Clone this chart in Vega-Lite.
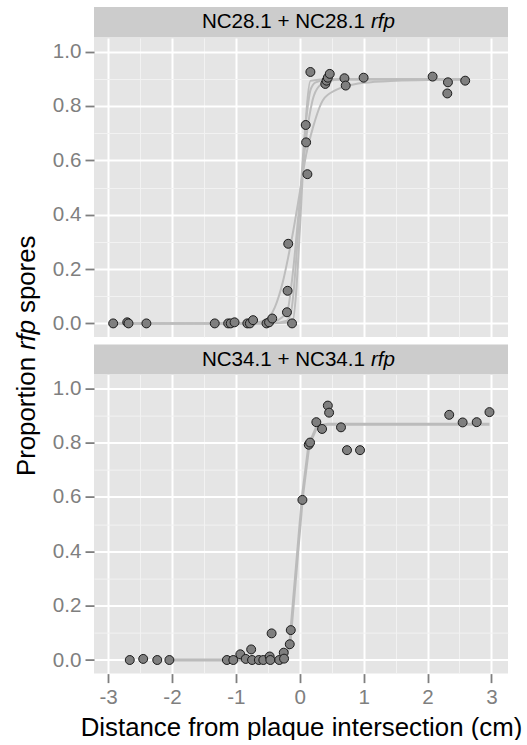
{
  "$schema": "https://vega.github.io/schema/vega-lite/v6.json",
  "padding": {"top": 7, "left": 0, "right": 0, "bottom": 0},
  "background": "white",
  "config": {
    "view": {"stroke": null},
    "font": "Liberation Sans"
  },
  "datasets": {
    "ytitle": [
      {"part": "Proportion"},
      {"part": "rfp"},
      {"part": "spores"}
    ],
    "strips": [
      {"panel": "NC28.1", "strain": "NC28.1 + NC28.1", "gene": "rfp"},
      {"panel": "NC34.1", "strain": "NC34.1 + NC34.1", "gene": "rfp"}
    ],
    "points": [
      {"panel": "NC28.1", "x": -2.92, "y": 0},
      {"panel": "NC28.1", "x": -2.70, "y": 0.004},
      {"panel": "NC28.1", "x": -2.68, "y": 0},
      {"panel": "NC28.1", "x": -2.40, "y": 0},
      {"panel": "NC28.1", "x": -1.33, "y": 0},
      {"panel": "NC28.1", "x": -1.12, "y": 0},
      {"panel": "NC28.1", "x": -1.08, "y": 0},
      {"panel": "NC28.1", "x": -1.02, "y": 0.004},
      {"panel": "NC28.1", "x": -0.82, "y": 0},
      {"panel": "NC28.1", "x": -0.78, "y": 0},
      {"panel": "NC28.1", "x": -0.73, "y": 0.012},
      {"panel": "NC28.1", "x": -0.52, "y": 0},
      {"panel": "NC28.1", "x": -0.48, "y": 0.004},
      {"panel": "NC28.1", "x": -0.43, "y": 0.018},
      {"panel": "NC28.1", "x": -0.18, "y": 0.293},
      {"panel": "NC28.1", "x": -0.19, "y": 0.12},
      {"panel": "NC28.1", "x": -0.20, "y": 0.041},
      {"panel": "NC28.1", "x": -0.12, "y": 0},
      {"panel": "NC28.1", "x": 0.094, "y": 0.73},
      {"panel": "NC28.1", "x": 0.10, "y": 0.666},
      {"panel": "NC28.1", "x": 0.12, "y": 0.549},
      {"panel": "NC28.1", "x": 0.167, "y": 0.925},
      {"panel": "NC28.1", "x": 0.40, "y": 0.881},
      {"panel": "NC28.1", "x": 0.42, "y": 0.893},
      {"panel": "NC28.1", "x": 0.44, "y": 0.904},
      {"panel": "NC28.1", "x": 0.47, "y": 0.918},
      {"panel": "NC28.1", "x": 0.70, "y": 0.902},
      {"panel": "NC28.1", "x": 0.72, "y": 0.875},
      {"panel": "NC28.1", "x": 1.00, "y": 0.904},
      {"panel": "NC28.1", "x": 2.08, "y": 0.908},
      {"panel": "NC28.1", "x": 2.31, "y": 0.846},
      {"panel": "NC28.1", "x": 2.32, "y": 0.887},
      {"panel": "NC28.1", "x": 2.59, "y": 0.893},
      {"panel": "NC34.1", "x": -2.66, "y": 0},
      {"panel": "NC34.1", "x": -2.45, "y": 0.004},
      {"panel": "NC34.1", "x": -2.23, "y": 0},
      {"panel": "NC34.1", "x": -2.04, "y": 0},
      {"panel": "NC34.1", "x": -1.14, "y": 0},
      {"panel": "NC34.1", "x": -1.04, "y": 0},
      {"panel": "NC34.1", "x": -0.93, "y": 0.021},
      {"panel": "NC34.1", "x": -0.845, "y": 0.004},
      {"panel": "NC34.1", "x": -0.76, "y": 0.039},
      {"panel": "NC34.1", "x": -0.746, "y": 0},
      {"panel": "NC34.1", "x": -0.64, "y": 0},
      {"panel": "NC34.1", "x": -0.57, "y": 0},
      {"panel": "NC34.1", "x": -0.47, "y": 0.013},
      {"panel": "NC34.1", "x": -0.46, "y": 0},
      {"panel": "NC34.1", "x": -0.44, "y": 0.098},
      {"panel": "NC34.1", "x": -0.32, "y": 0},
      {"panel": "NC34.1", "x": -0.25, "y": 0.027},
      {"panel": "NC34.1", "x": -0.245, "y": 0.005},
      {"panel": "NC34.1", "x": -0.156, "y": 0.058},
      {"panel": "NC34.1", "x": -0.14, "y": 0.11},
      {"panel": "NC34.1", "x": 0.042, "y": 0.589},
      {"panel": "NC34.1", "x": 0.141, "y": 0.792},
      {"panel": "NC34.1", "x": 0.162, "y": 0.80},
      {"panel": "NC34.1", "x": 0.26, "y": 0.875},
      {"panel": "NC34.1", "x": 0.35, "y": 0.85},
      {"panel": "NC34.1", "x": 0.44, "y": 0.936},
      {"panel": "NC34.1", "x": 0.46, "y": 0.91},
      {"panel": "NC34.1", "x": 0.646, "y": 0.856},
      {"panel": "NC34.1", "x": 0.74, "y": 0.772},
      {"panel": "NC34.1", "x": 0.944, "y": 0.772},
      {"panel": "NC34.1", "x": 2.34, "y": 0.902},
      {"panel": "NC34.1", "x": 2.55, "y": 0.874},
      {"panel": "NC34.1", "x": 2.77, "y": 0.875},
      {"panel": "NC34.1", "x": 2.97, "y": 0.912}
    ],
    "curves": [
      {"panel": "NC28.1", "rep": "a", "x": -2.92, "y": 0},
      {"panel": "NC28.1", "rep": "a", "x": -0.52, "y": 0},
      {"panel": "NC28.1", "rep": "a", "x": -0.12, "y": 0.003},
      {"panel": "NC28.1", "rep": "a", "x": 0.17, "y": 0.893},
      {"panel": "NC28.1", "rep": "a", "x": 0.47, "y": 0.898},
      {"panel": "NC28.1", "rep": "a", "x": 2.59, "y": 0.898},
      {"panel": "NC28.1", "rep": "b", "x": -2.92, "y": 0},
      {"panel": "NC28.1", "rep": "b", "x": -0.78, "y": 0},
      {"panel": "NC28.1", "rep": "b", "x": -0.43, "y": 0.001},
      {"panel": "NC28.1", "rep": "b", "x": -0.2, "y": 0.01},
      {"panel": "NC28.1", "rep": "b", "x": -0.13, "y": 0.05},
      {"panel": "NC28.1", "rep": "b", "x": 0.1, "y": 0.75},
      {"panel": "NC28.1", "rep": "b", "x": 0.17, "y": 0.86},
      {"panel": "NC28.1", "rep": "b", "x": 0.25, "y": 0.887},
      {"panel": "NC28.1", "rep": "b", "x": 0.44, "y": 0.897},
      {"panel": "NC28.1", "rep": "b", "x": 2.59, "y": 0.898},
      {"panel": "NC28.1", "rep": "c", "x": -2.92, "y": 0},
      {"panel": "NC28.1", "rep": "c", "x": -0.73, "y": 0},
      {"panel": "NC28.1", "rep": "c", "x": -0.48, "y": 0.002},
      {"panel": "NC28.1", "rep": "c", "x": -0.2, "y": 0.04},
      {"panel": "NC28.1", "rep": "c", "x": -0.12, "y": 0.16},
      {"panel": "NC28.1", "rep": "c", "x": 0.0, "y": 0.45},
      {"panel": "NC28.1", "rep": "c", "x": 0.1, "y": 0.68},
      {"panel": "NC28.1", "rep": "c", "x": 0.2, "y": 0.82},
      {"panel": "NC28.1", "rep": "c", "x": 0.3, "y": 0.872},
      {"panel": "NC28.1", "rep": "c", "x": 0.47, "y": 0.893},
      {"panel": "NC28.1", "rep": "c", "x": 0.72, "y": 0.898},
      {"panel": "NC28.1", "rep": "c", "x": 2.59, "y": 0.898},
      {"panel": "NC28.1", "rep": "d", "x": -2.92, "y": 0},
      {"panel": "NC28.1", "rep": "d", "x": -0.82, "y": 0.001},
      {"panel": "NC28.1", "rep": "d", "x": -0.55, "y": 0.01},
      {"panel": "NC28.1", "rep": "d", "x": -0.39, "y": 0.059},
      {"panel": "NC28.1", "rep": "d", "x": -0.26, "y": 0.157},
      {"panel": "NC28.1", "rep": "d", "x": -0.18, "y": 0.244},
      {"panel": "NC28.1", "rep": "d", "x": -0.1, "y": 0.342},
      {"panel": "NC28.1", "rep": "d", "x": 0.0, "y": 0.48},
      {"panel": "NC28.1", "rep": "d", "x": 0.1, "y": 0.62},
      {"panel": "NC28.1", "rep": "d", "x": 0.21, "y": 0.723},
      {"panel": "NC28.1", "rep": "d", "x": 0.365, "y": 0.822},
      {"panel": "NC28.1", "rep": "d", "x": 0.57, "y": 0.859},
      {"panel": "NC28.1", "rep": "d", "x": 0.72, "y": 0.872},
      {"panel": "NC28.1", "rep": "d", "x": 1.0, "y": 0.885},
      {"panel": "NC28.1", "rep": "d", "x": 1.5, "y": 0.893},
      {"panel": "NC28.1", "rep": "d", "x": 2.08, "y": 0.896},
      {"panel": "NC28.1", "rep": "d", "x": 2.59, "y": 0.897},
      {"panel": "NC34.1", "rep": "a", "x": -2.04, "y": 0},
      {"panel": "NC34.1", "rep": "a", "x": -0.32, "y": 0},
      {"panel": "NC34.1", "rep": "a", "x": -0.25, "y": 0.004},
      {"panel": "NC34.1", "rep": "a", "x": -0.156, "y": 0.05},
      {"panel": "NC34.1", "rep": "a", "x": -0.14, "y": 0.10},
      {"panel": "NC34.1", "rep": "a", "x": 0.042, "y": 0.60},
      {"panel": "NC34.1", "rep": "a", "x": 0.141, "y": 0.785},
      {"panel": "NC34.1", "rep": "a", "x": 0.162, "y": 0.80},
      {"panel": "NC34.1", "rep": "a", "x": 0.26, "y": 0.855},
      {"panel": "NC34.1", "rep": "a", "x": 0.35, "y": 0.864},
      {"panel": "NC34.1", "rep": "a", "x": 0.44, "y": 0.867},
      {"panel": "NC34.1", "rep": "a", "x": 2.97, "y": 0.867}
    ]
  },
  "spacing": 4,
  "hconcat": [
    {
      "width": 48,
      "height": 656,
      "data": {"name": "ytitle"},
      "layer": [
        {
          "transform": [{"filter": "datum.part == 'rfp'"}],
          "mark": {"type": "text", "angle": 270, "fontSize": 25.8, "fontStyle": "italic", "align": "center", "baseline": "middle", "dy": 3, "color": "black"},
          "encoding": {"text": {"field": "part"}}
        },
        {
          "transform": [{"filter": "datum.part == 'Proportion'"}],
          "mark": {"type": "text", "angle": 270, "fontSize": 25.8, "align": "right", "baseline": "middle", "dx": -22, "dy": 3, "color": "black"},
          "encoding": {"text": {"field": "part"}}
        },
        {
          "transform": [{"filter": "datum.part == 'spores'"}],
          "mark": {"type": "text", "angle": 270, "fontSize": 25.8, "align": "left", "baseline": "middle", "dx": 22, "dy": 3, "color": "black"},
          "encoding": {"text": {"field": "part"}}
        }
      ]
    },
    {
      "spacing": 7.6,
      "vconcat": [
        {
          "spacing": 0,
          "vconcat": [
            {
              "width": 414,
              "height": 30.4,
              "view": {"fill": "#CCCCCC", "stroke": null},
              "data": {"name": "strips"},
              "transform": [{"filter": "datum.panel == 'NC28.1'"}],
              "layer": [
                {"mark": {"type": "text", "align": "right", "dx": 64, "fontSize": 20.6, "baseline": "middle", "color": "black"}, "encoding": {"text": {"field": "strain"}}},
                {"mark": {"type": "text", "align": "left", "dx": 70, "fontSize": 20.6, "fontStyle": "italic", "baseline": "middle", "color": "black"}, "encoding": {"text": {"field": "gene"}}}
              ]
            },
            {
              "width": 414,
              "height": 299,
              "view": {"fill": "#E5E5E5", "stroke": null},
              "layer": [
                {
                  "data": {"name": "curves"},
                  "transform": [{"filter": "datum.panel == 'NC28.1'"}],
                  "mark": {"type": "line", "color": "#BDBDBD", "strokeWidth": 2, "interpolate": "monotone"},
                  "encoding": {
                    "x": {"field": "x", "type": "quantitative", "scale": {"domain": [-3.22, 3.26], "nice": false, "zero": false},
                      "axis": {"orient": "top", "values": [-2.5, -1.5, -0.5, 0.5, 1.5, 2.5], "grid": true, "gridColor": "#F2F2F2", "gridWidth": 1, "labels": false, "ticks": false, "domain": false, "title": null, "minExtent": 0, "maxExtent": 0}},
                    "y": {"field": "y", "type": "quantitative", "scale": {"domain": [-0.05, 1.05], "nice": false, "zero": false},
                      "axis": {"orient": "right", "values": [0.1, 0.3, 0.5, 0.7, 0.9], "grid": true, "gridColor": "#F2F2F2", "gridWidth": 1, "labels": false, "ticks": false, "domain": false, "title": null, "minExtent": 0, "maxExtent": 0}},
                    "detail": {"field": "rep"}
                  }
                },
                {
                  "data": {"name": "points"},
                  "transform": [{"filter": "datum.panel == 'NC28.1'"}],
                  "mark": {"type": "circle", "fill": "#7F7F7F", "stroke": "#1A1A1A", "strokeWidth": 1, "size": 80, "opacity": 1},
                  "encoding": {
                    "x": {"field": "x", "type": "quantitative",
                      "axis": {"orient": "bottom", "values": [-3, -2, -1, 0, 1, 2, 3], "grid": true, "gridColor": "#FFFFFF", "gridWidth": 2, "labels": false, "ticks": false, "domain": false, "title": null, "minExtent": 0, "maxExtent": 0}},
                    "y": {"field": "y", "type": "quantitative",
                      "axis": {"orient": "left", "values": [0, 0.2, 0.4, 0.6, 0.8, 1], "format": ".1f", "grid": true, "gridColor": "#FFFFFF", "gridWidth": 2, "labelColor": "#7F7F7F", "labelFontSize": 20.6, "labelPadding": 4, "ticks": true, "tickColor": "#7F7F7F", "tickSize": 9, "tickWidth": 1.8, "domain": false, "title": null, "minExtent": 36, "maxExtent": 36}}
                  }
                }
              ],
              "resolve": {"axis": {"x": "independent", "y": "independent"}}
            }
          ]
        },
        {
          "spacing": 0,
          "vconcat": [
            {
              "width": 414,
              "height": 30,
              "view": {"fill": "#CCCCCC", "stroke": null},
              "data": {"name": "strips"},
              "transform": [{"filter": "datum.panel == 'NC34.1'"}],
              "layer": [
                {"mark": {"type": "text", "align": "right", "dx": 64, "fontSize": 20.6, "baseline": "middle", "color": "black"}, "encoding": {"text": {"field": "strain"}}},
                {"mark": {"type": "text", "align": "left", "dx": 70, "fontSize": 20.6, "fontStyle": "italic", "baseline": "middle", "color": "black"}, "encoding": {"text": {"field": "gene"}}}
              ]
            },
            {
              "width": 414,
              "height": 299,
              "view": {"fill": "#E5E5E5", "stroke": null},
              "layer": [
                {
                  "data": {"name": "curves"},
                  "transform": [{"filter": "datum.panel == 'NC34.1'"}],
                  "mark": {"type": "line", "color": "#BBBBBB", "strokeWidth": 3},
                  "encoding": {
                    "x": {"field": "x", "type": "quantitative", "scale": {"domain": [-3.22, 3.26], "nice": false, "zero": false},
                      "axis": {"orient": "top", "values": [-2.5, -1.5, -0.5, 0.5, 1.5, 2.5], "grid": true, "gridColor": "#F2F2F2", "gridWidth": 1, "labels": false, "ticks": false, "domain": false, "title": null, "minExtent": 0, "maxExtent": 0}},
                    "y": {"field": "y", "type": "quantitative", "scale": {"domain": [-0.05, 1.05], "nice": false, "zero": false},
                      "axis": {"orient": "right", "values": [0.1, 0.3, 0.5, 0.7, 0.9], "grid": true, "gridColor": "#F2F2F2", "gridWidth": 1, "labels": false, "ticks": false, "domain": false, "title": null, "minExtent": 0, "maxExtent": 0}},
                    "detail": {"field": "rep"}
                  }
                },
                {
                  "data": {"name": "points"},
                  "transform": [{"filter": "datum.panel == 'NC34.1'"}],
                  "mark": {"type": "circle", "fill": "#7F7F7F", "stroke": "#1A1A1A", "strokeWidth": 1, "size": 80, "opacity": 1},
                  "encoding": {
                    "x": {"field": "x", "type": "quantitative",
                      "axis": {"orient": "bottom", "values": [-3, -2, -1, 0, 1, 2, 3], "labelExpr": "'' + datum.value", "grid": true, "gridColor": "#FFFFFF", "gridWidth": 2, "labelColor": "#7F7F7F", "labelFontSize": 20.6, "labelPadding": 5, "ticks": true, "tickColor": "#7F7F7F", "tickSize": 9, "tickWidth": 1.8, "domain": false, "title": "Distance from plaque intersection (cm)", "titleFontSize": 25.8, "titleFontWeight": "normal", "titleColor": "black", "titlePadding": 7}},
                    "y": {"field": "y", "type": "quantitative",
                      "axis": {"orient": "left", "values": [0, 0.2, 0.4, 0.6, 0.8, 1], "format": ".1f", "grid": true, "gridColor": "#FFFFFF", "gridWidth": 2, "labelColor": "#7F7F7F", "labelFontSize": 20.6, "labelPadding": 4, "ticks": true, "tickColor": "#7F7F7F", "tickSize": 9, "tickWidth": 1.8, "domain": false, "title": null, "minExtent": 36, "maxExtent": 36}}
                  }
                }
              ],
              "resolve": {"axis": {"x": "independent", "y": "independent"}}
            }
          ]
        }
      ]
    }
  ]
}
